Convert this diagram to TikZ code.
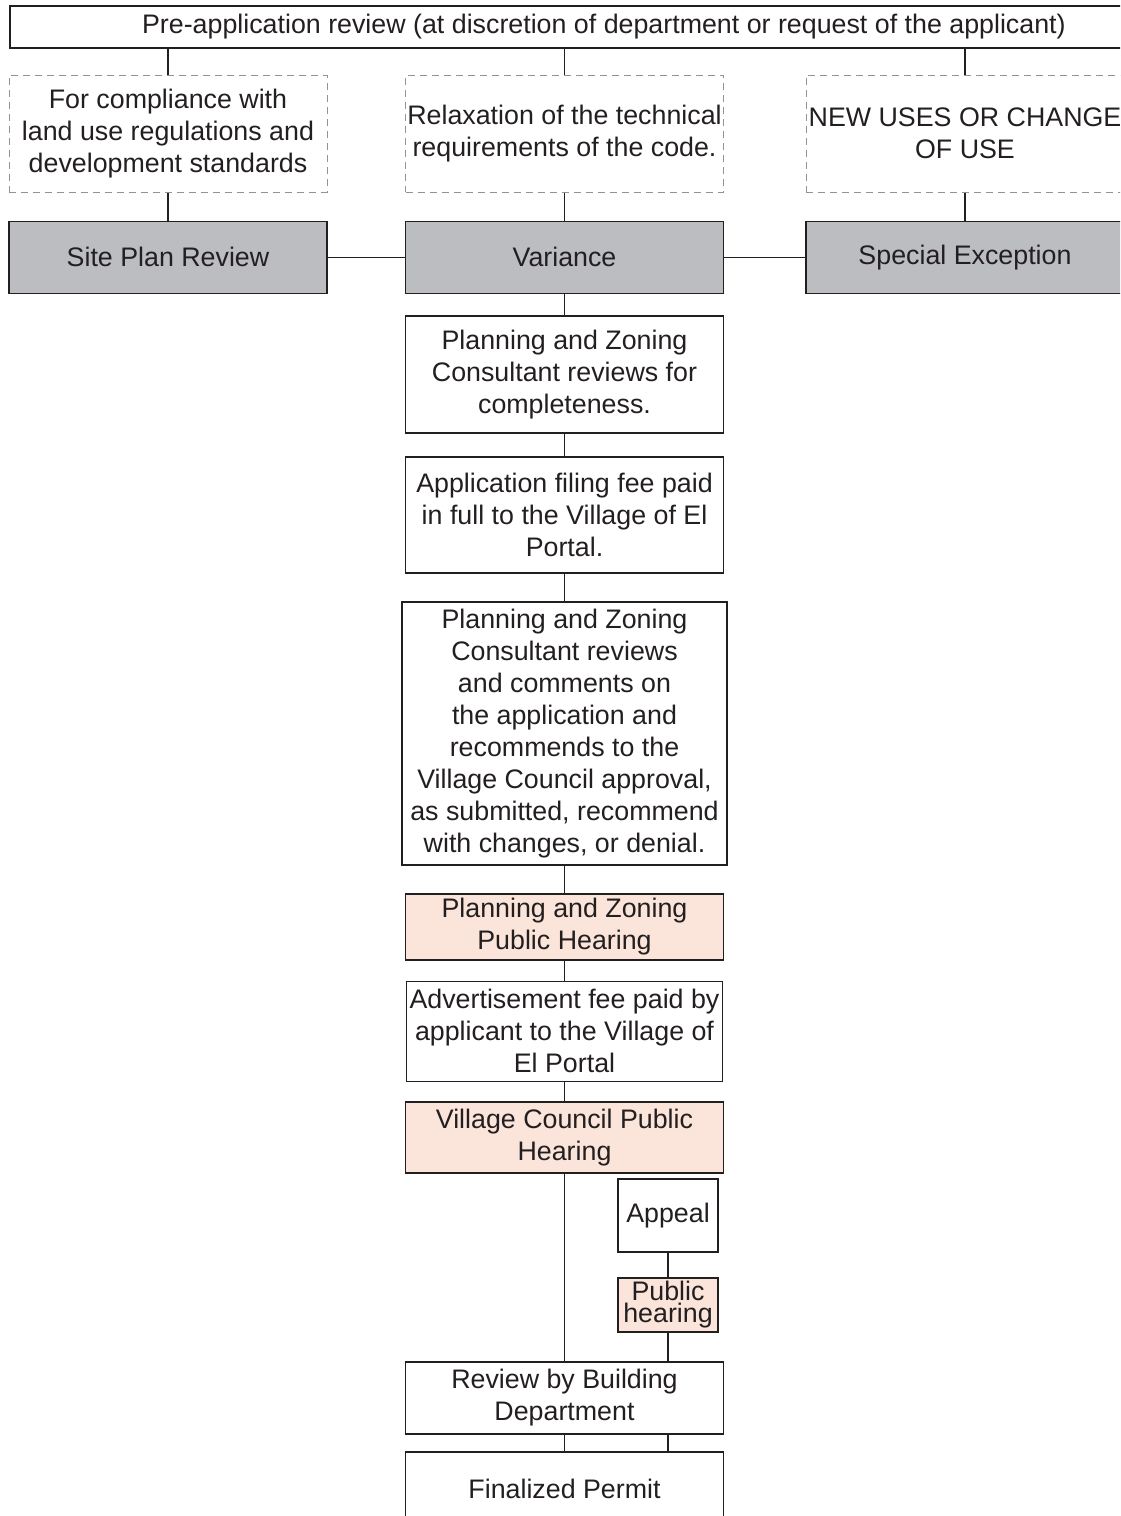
\documentclass[tikz,border=0pt]{standalone}
\usepackage{fontspec}
\setmainfont{Liberation Sans}
\usepackage{xcolor}
\usetikzlibrary{positioning}
\definecolor{boxgrey}{RGB}{187,189,192}
\definecolor{hearpink}{RGB}{251,228,218}
\definecolor{inkdark}{RGB}{35,31,32}

\begin{document}
\begin{tikzpicture}[x=1pt,y=1pt,
node distance=21pt,
box/.style={draw=inkdark,line width=1.8pt,align=center,inner sep=0pt,text=inkdark,font=\fontsize{26.8}{32}\selectfont,minimum width=318pt},
topic/.style={box,draw=gray!85,line width=1pt,dash pattern=on 7pt off 5pt,minimum height=117pt},
route/.style={box,fill=boxgrey,minimum height=72pt},
hear/.style={box,fill=hearpink},
link/.style={draw=inkdark,line width=1.4pt}]
\useasboundingbox (0,0) rectangle (1120,-1516);
\clip (0,0) rectangle (1120,-1516);
\node[box,minimum width=1188pt,minimum height=42pt,anchor=north west] (pre) at (9,-5) {Pre-application review (at discretion of department or request of the applicant)};
\node[topic] (forc) at (168,-133.5) {For compliance with\\land use regulations and\\development standards};
\node[topic] (relax) at (564.5,-133.5) {Relaxation of the technical\\requirements of the code.};
\node[topic] (newuse) at (965,-133.5) {NEW USES OR CHANGE\\OF USE};
\node[route,below=28pt of forc] (site) {Site Plan Review};
\node[route,below=28pt of relax] (var) {Variance};
\node[route,below=28pt of newuse] (spec) {Special Exception};
\node[box,minimum height=117pt,below=of var] (cons) {Planning and Zoning\\Consultant reviews for\\completeness.};
\node[box,minimum height=116pt,below=22pt of cons] (fee) {Application filing fee paid\\in full to the Village of El\\Portal.};
\node[box,minimum width=325pt,minimum height=263pt,below=27pt of fee] (recom) {Planning and Zoning\\Consultant reviews\\and comments on\\the application and\\recommends to the\\Village Council approval,\\as submitted, recommend\\with changes, or denial.};
\node[hear,minimum height=66pt,below=27pt of recom] (pzhear) {Planning and Zoning\\Public Hearing};
\node[box,minimum width=316pt,minimum height=100pt,below=20pt of pzhear] (advfee) {Advertisement fee paid by\\applicant to the Village of\\El Portal};
\node[hear,minimum height=71pt,below=19pt of advfee] (vchear) {Village Council Public\\Hearing};
\node[box,minimum width=100pt,minimum height=73pt,anchor=north] (appeal) at (668,-1178) {Appeal};
\node[hear,minimum width=100pt,minimum height=54pt,below=24pt of appeal,font=\fontsize{26.8}{22}\selectfont] (pubhear) {Public\\hearing};
\node[box,minimum height=72pt,anchor=north] (bldg) at (564.5,-1361) {Review by Building\\Department};
\node[box,minimum height=74pt,below=16pt of bldg] (permit) {Finalized Permit};
% connectors
\foreach \t in {forc,relax,newuse} \draw[link] (pre.south -| \t.north) -- (\t.north);
\draw[link] (forc) -- (site); \draw[link] (relax) -- (var); \draw[link] (newuse) -- (spec);
\draw[link] (site) -- (var); \draw[link] (var) -- (spec);
\draw[link] (var) -- (cons) -- (fee) -- (recom) -- (pzhear) -- (advfee) -- (vchear) -- (bldg);
\draw[link] (appeal) -- (pubhear) -- (bldg.north -| pubhear);
\draw[link] (bldg) -- (permit);
\draw[link] (bldg.south -| pubhear) -- (permit.north -| pubhear);
\end{tikzpicture}
\end{document}
